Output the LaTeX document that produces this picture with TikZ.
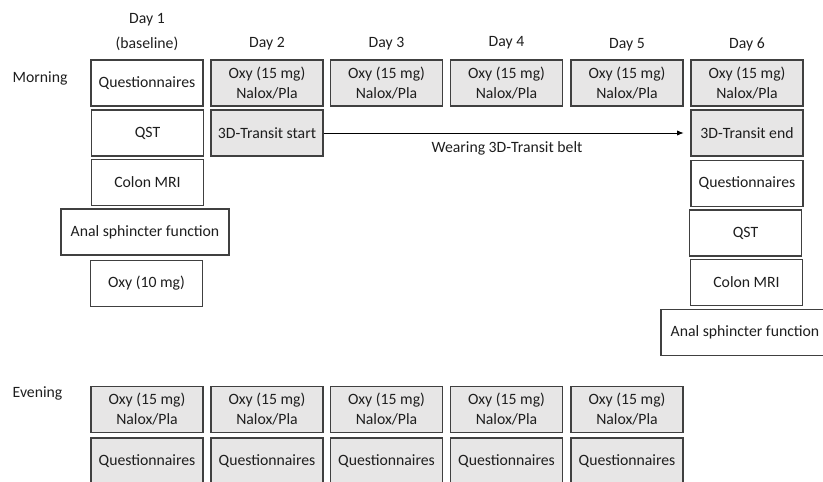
\documentclass[tikz,border=0pt]{standalone}
\usepackage{fontspec}
\setmainfont{Carlito}
\usepackage{tikz}
\usetikzlibrary{arrows.meta, positioning}
\usepackage{xcolor}
\definecolor{boxline}{RGB}{64,64,64}
\definecolor{boxgrey}{RGB}{231,230,230}
\definecolor{textdark}{RGB}{30,30,30}

\begin{document}
\begin{tikzpicture}[
  x=0.75pt, y=-0.75pt,
  every node/.style={text=textdark, font=\fontsize{11.8}{15}\selectfont},
  task/.style={draw=boxline, fill=white, line width=0.9pt, inner sep=0pt,
               minimum width=84pt, minimum height=34.5pt, align=center},
  drug/.style={task, fill=boxgrey},
  wide/.style={task, minimum width=126pt},
  belt/.style={-{Latex[length=5pt, width=4pt]}, line width=0.7pt, black,
               shorten >=5pt},
]
  \useasboundingbox (0,0) rectangle (823,481);

  % Headers
  \node[align=center, font=\fontsize{11.8}{18.75}\selectfont] (day1) at (147,32) {Day 1\\(baseline)};
  \node (day2) at (267,44) {Day 2};
  \node (day3) at (386.5,44) {Day 3};
  \node (day4) at (506.5,43) {Day 4};
  \node (day5) at (627,45) {Day 5};
  \node (day6) at (747,44) {Day 6};
  \node[anchor=west] (morning) at (8,78) {Morning};
  \node[anchor=west] (evening) at (8,393) {Evening};

  % Day 1 (baseline)
  \node[task] (q1) at (147,83) {Questionnaires};
  \node[task] (qst1) at (147.5,133) {QST};
  \node[task] (mri1) at (147.5,182.5) {Colon MRI};
  \node[wide] (anal1) at (145,232) {Anal sphincter function};
  \node[task] (oxy1) at (146.5,283.5) {Oxy (10 mg)};

  % Morning doses
  \node[drug] (m2) at (267,83) {Oxy (15 mg)\\Nalox/Pla};
  \node[drug] (m3) at (386.5,83) {Oxy (15 mg)\\Nalox/Pla};
  \node[drug] (m4) at (506.5,83) {Oxy (15 mg)\\Nalox/Pla};
  \node[drug] (m5) at (627,83) {Oxy (15 mg)\\Nalox/Pla};
  \node[drug] (m6) at (747,83) {Oxy (15 mg)\\Nalox/Pla};

  % 3D-Transit
  \node[drug] (start) at (267,133) {3D-Transit start};
  \node[drug] (end) at (747,133) {3D-Transit end};

  % Day 6
  \node[task] (q6) at (747,183.5) {Questionnaires};
  \node[task] (qst6) at (745.5,233) {QST};
  \node[task] (mri6) at (746.5,282.5) {Colon MRI};
  \node[wide] (anal6) at (745,332.5) {Anal sphincter function};

  % Evening
  \node[drug] (e1) at (147,409.5) {Oxy (15 mg)\\Nalox/Pla};
  \node[drug] (e2) at (267,409.5) {Oxy (15 mg)\\Nalox/Pla};
  \node[drug] (e3) at (386.5,409.5) {Oxy (15 mg)\\Nalox/Pla};
  \node[drug] (e4) at (506.5,409.5) {Oxy (15 mg)\\Nalox/Pla};
  \node[drug] (e5) at (627,409.5) {Oxy (15 mg)\\Nalox/Pla};
  \node[drug] (eq1) at (147,461) {Questionnaires};
  \node[drug] (eq2) at (267,461) {Questionnaires};
  \node[drug] (eq3) at (386.5,461) {Questionnaires};
  \node[drug] (eq4) at (506.5,461) {Questionnaires};
  \node[drug] (eq5) at (627,461) {Questionnaires};

  % Belt
  \draw[belt] (start) -- (end)
    node[midway, below=3pt] (wear) {Wearing 3D-Transit belt};
\end{tikzpicture}
\end{document}
